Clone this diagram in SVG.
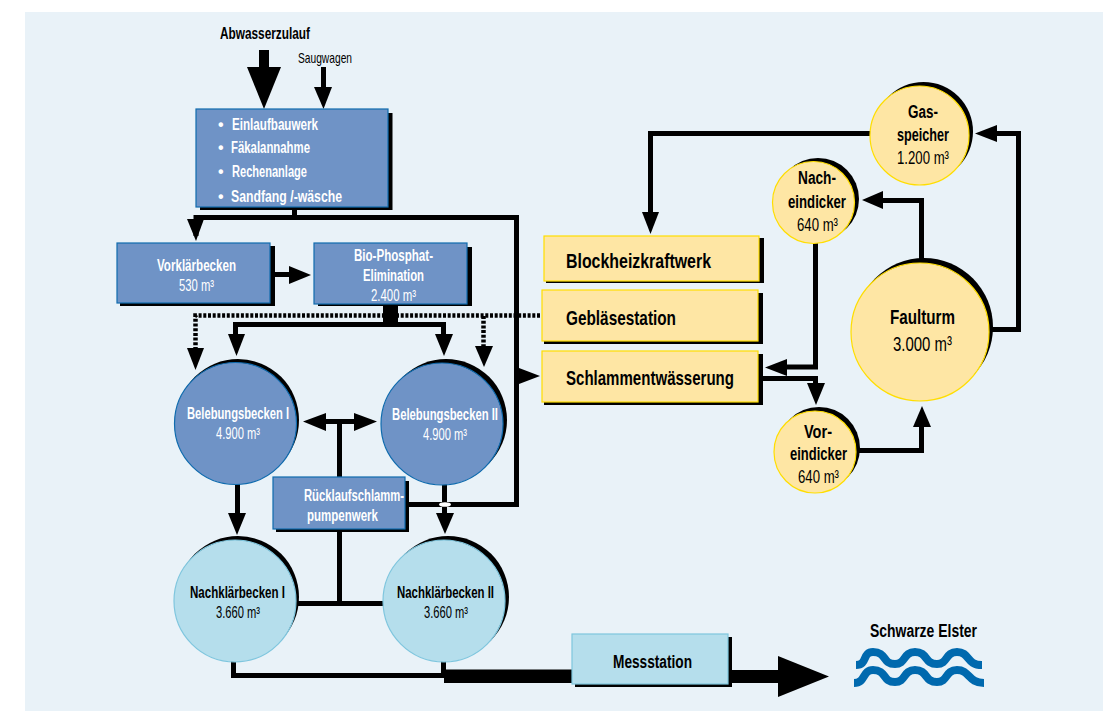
<svg xmlns="http://www.w3.org/2000/svg" width="1103" height="711" viewBox="0 0 1103 711">
<defs><style>
text{font-family:"Liberation Sans",Arial,sans-serif;font-weight:700;font-size:16px;fill:#fff}
.d{fill:#000}.r{font-weight:400}.big{font-size:20.500px}.mid{font-size:18px}.sm{font-size:14.500px}
.blue{fill:#6f93c6;stroke:#0f6bae;stroke-width:1.2}
.lb{fill:#b5deec;stroke:#7fc6de;stroke-width:1.2}
.yl{fill:#fee6a4;stroke:#ffde00;stroke-width:1.2}
.l{fill:none;stroke:#000;stroke-width:5}
.dot{fill:none;stroke:#000;stroke-width:4.500;stroke-dasharray:3 1.700}
.h{fill:#000;stroke:none}
.w{fill:none;stroke:#0069ae;stroke-width:8}
</style></defs>
<rect x="25" y="12" width="1078" height="699" fill="#e9f2f8"/>
<g id="connectors">
<polyline class="l" points="294.500,207 294.500,217.500"/>
<polyline class="l" points="196,236 196,217.500 516.500,217.500 516.500,504.500 405,504.500"/>
<polygon class="h" points="187,219 204,219 196,241"/>
<rect class="h" x="259" y="50" width="10" height="20"/><polygon class="h" points="247,67 281,67 264,109"/>
<rect class="h" x="321" y="67" width="5" height="22"/><polygon class="h" points="314,87 332,87 323.500,109"/>
<polyline class="l" points="272,274.500 292,274.500"/><polygon class="h" points="289,266 311,275 289,284"/>
<rect class="h" x="383" y="304" width="15" height="18"/>
<polyline class="dot" points="195.500,350 195.500,315.500 540,315.500"/>
<polyline class="dot" points="483.500,316 483.500,348"/>
<polygon class="h" points="187,348 204,348 195.500,370"/><polygon class="h" points="475,346 493,346 484,367"/>
<polyline class="l" points="235.500,336 235.500,324.500 443.500,324.500 443.500,336"/>
<polygon class="h" points="228,334 245,334 236.500,356"/><polygon class="h" points="435,334 453,334 444,356"/>
<polyline class="l" points="237.500,482 237.500,515"/><polygon class="h" points="228,513 246,513 237,535"/>
<polyline class="l" points="444.500,483 444.500,515"/><polygon class="h" points="436,513 454,513 445,534"/>
<polyline class="l" points="324,421.500 356,421.500"/><polygon class="h" points="326,413 326,431 303,421.500"/><polygon class="h" points="354,413 354,431 377,421.500"/>
<polyline class="l" points="339.500,421 339.500,480"/><polyline class="l" points="339.500,530 339.500,603.500"/><polyline class="l" points="296,603.500 385,603.500"/>
<polygon class="h" points="519,368 540,376 519,384"/>
<polyline class="l" points="233.500,660 233.500,675.500 443.500,675.500 443.500,660"/>
<rect class="h" x="444" y="669.500" width="130" height="13.500"/><rect class="h" x="728" y="670" width="52" height="13"/><polygon class="h" points="778,656 829,676.500 778,697"/>
<polyline class="l" points="872,133.500 650.500,133.500 650.500,214"/><polygon class="h" points="642,212 659,212 650.500,234"/>
<polyline class="l" points="988,329.500 1018.500,329.500 1018.500,133.500 995,133.500"/><polygon class="h" points="997,125 997,142 975,133.500"/>
<polyline class="l" points="921.500,262 921.500,200.500 881,200.500"/><polygon class="h" points="883,191 883,209 862,200"/>
<polyline class="l" points="815.500,243 815.500,367 785,367"/><polygon class="h" points="787,359 787,376 765,367.500"/>
<polyline class="l" points="763,378.500 815.500,378.500 815.500,385"/><polygon class="h" points="807,383 825,383 816,405"/>
<polyline class="l" points="857,450.500 921.500,450.500 921.500,425"/><polygon class="h" points="913,427 931,427 922,406"/>
<ellipse cx="445" cy="504.500" rx="6" ry="2.300" fill="#fff"/>
</g>
<g id="einlauf"><rect class="h" x="200" y="113" width="192.500" height="97"/><rect class="blue" x="196" y="109" width="192" height="98"/>
<text x="218" y="130" textLength="5">•</text><text x="232" y="130" textLength="86" lengthAdjust="spacingAndGlyphs">Einlaufbauwerk</text>
<text x="218" y="153" textLength="5">•</text><text x="231" y="153" textLength="79" lengthAdjust="spacingAndGlyphs">Fäkalannahme</text>
<text x="218" y="177" textLength="5">•</text><text x="232" y="177" textLength="75" lengthAdjust="spacingAndGlyphs">Rechenanlage</text>
<text x="218" y="202" textLength="5">•</text><text x="231" y="202" textLength="111" lengthAdjust="spacingAndGlyphs">Sandfang /-wäsche</text></g>
<g id="vorklaer"><rect class="h" x="120" y="246" width="155" height="60"/><rect class="blue" x="117" y="243" width="153" height="60"/>
<text x="157" y="271" textLength="79" lengthAdjust="spacingAndGlyphs">Vorklärbecken</text><text class="r" x="179" y="291" textLength="35" lengthAdjust="spacingAndGlyphs">530 m³</text></g>
<g id="biop"><rect class="h" x="318" y="247" width="154" height="59"/><rect class="blue" x="314" y="243" width="153" height="61"/>
<text x="354" y="261" textLength="79" lengthAdjust="spacingAndGlyphs">Bio-Phosphat-</text><text x="363" y="281" textLength="61" lengthAdjust="spacingAndGlyphs">Elimination</text><text class="r" x="371" y="301" textLength="45" lengthAdjust="spacingAndGlyphs">2.400 m³</text></g>
<g id="beleb1"><circle class="h" cx="238" cy="420" r="61"/><circle class="blue" cx="235.500" cy="423.500" r="61"/>
<text x="187" y="419" textLength="102" lengthAdjust="spacingAndGlyphs">Belebungsbecken I</text><text class="r" x="216" y="439" textLength="44" lengthAdjust="spacingAndGlyphs">4.900 m³</text></g>
<g id="beleb2"><circle class="h" cx="446" cy="420" r="61"/><circle class="blue" cx="442" cy="424" r="61"/>
<text x="392" y="420" textLength="106" lengthAdjust="spacingAndGlyphs">Belebungsbecken II</text><text class="r" x="423" y="440" textLength="44" lengthAdjust="spacingAndGlyphs">4.900 m³</text></g>
<g id="ruecklauf"><rect class="h" x="276" y="481" width="133" height="51"/><rect class="blue" x="273" y="477" width="132" height="52"/>
<text x="304" y="501" textLength="100" lengthAdjust="spacingAndGlyphs">Rücklaufschlamm-</text><text x="307" y="521" textLength="71" lengthAdjust="spacingAndGlyphs">pumpenwerk</text></g>
<g id="nach1"><circle class="h" cx="238" cy="597" r="61"/><circle class="lb" cx="235" cy="601" r="61"/>
<text class="d" x="190" y="598" textLength="95" lengthAdjust="spacingAndGlyphs">Nachklärbecken I</text><text class="d r" x="216" y="618" textLength="44" lengthAdjust="spacingAndGlyphs">3.660 m³</text></g>
<g id="nach2"><circle class="h" cx="448" cy="597" r="61"/><circle class="lb" cx="444" cy="601" r="61"/>
<text class="d" x="397" y="598" textLength="97" lengthAdjust="spacingAndGlyphs">Nachklärbecken II</text><text class="d r" x="424" y="618" textLength="44" lengthAdjust="spacingAndGlyphs">3.660 m³</text></g>
<g id="bhkw"><rect class="h" x="546" y="238" width="218" height="45"/><rect class="yl" x="544" y="236" width="215" height="45"/><text class="d big" x="566" y="268" textLength="145" lengthAdjust="spacingAndGlyphs">Blockheizkraftwerk</text></g>
<g id="geblaese"><rect class="h" x="544" y="293" width="219" height="51"/><rect class="yl" x="542" y="290" width="216" height="51"/><text class="d big" x="566" y="325" textLength="110" lengthAdjust="spacingAndGlyphs">Gebläsestation</text></g>
<g id="schlamm"><rect class="h" x="544" y="354" width="219" height="51"/><rect class="yl" x="542" y="351" width="216" height="51"/><text class="d big" x="566" y="385" textLength="168" lengthAdjust="spacingAndGlyphs">Schlammentwässerung</text></g>
<g id="gas"><circle class="h" cx="923.500" cy="131.500" r="49.500"/><circle class="yl" cx="919.500" cy="135.500" r="49.500"/>
<text class="d mid" x="908" y="118" textLength="30" lengthAdjust="spacingAndGlyphs">Gas-</text><text class="d mid" x="897" y="141" textLength="52" lengthAdjust="spacingAndGlyphs">speicher</text><text class="d mid r" x="897" y="164" textLength="52" lengthAdjust="spacingAndGlyphs">1.200 m³</text></g>
<g id="nacheind"><circle class="h" cx="818" cy="199" r="41"/><circle class="yl" cx="813.500" cy="202.500" r="41"/>
<text class="d mid" x="798" y="184" textLength="38" lengthAdjust="spacingAndGlyphs">Nach-</text><text class="d mid" x="788" y="208" textLength="58" lengthAdjust="spacingAndGlyphs">eindicker</text><text class="d mid r" x="797" y="231" textLength="41" lengthAdjust="spacingAndGlyphs">640 m³</text></g>
<g id="voreind"><circle class="h" cx="819" cy="448" r="41"/><circle class="yl" cx="815" cy="452" r="41"/>
<text class="d mid" x="804" y="438" textLength="28" lengthAdjust="spacingAndGlyphs">Vor-</text><text class="d mid" x="790" y="460" textLength="57" lengthAdjust="spacingAndGlyphs">eindicker</text><text class="d mid r" x="798" y="483" textLength="41" lengthAdjust="spacingAndGlyphs">640 m³</text></g>
<g id="faulturm"><circle class="h" cx="924" cy="327" r="69"/><circle class="yl" cx="920" cy="332" r="69"/>
<text class="d big" x="890" y="324" textLength="65" lengthAdjust="spacingAndGlyphs">Faulturm</text><text class="d big r" x="893" y="351" textLength="59" lengthAdjust="spacingAndGlyphs">3.000 m³</text></g>
<g id="mess"><rect class="h" x="575" y="637" width="157" height="50"/><rect class="lb" x="572" y="634" width="156" height="50"/><text class="d mid" x="613" y="668" textLength="79" lengthAdjust="spacingAndGlyphs">Messstation</text></g>
<g id="elster"><text class="d mid" x="870" y="637" textLength="107" lengthAdjust="spacingAndGlyphs">Schwarze Elster</text>
<path class="w" d="M856,665 C868,665 862,652 873,652 C887,652 882,664 895,664 C906,664 903,652 915,652 C928,652 924,664 937,664 C948,664 945,652 957,652 C970,652 966,665 982,665"/>
<path class="w" d="M854,683 C866,683 862,670 873,670 C887,670 882,682 895,682 C906,682 903,670 915,670 C928,670 924,682 937,682 C948,682 945,670 957,670 C970,670 968,683 984,683"/></g>
<text class="d" x="220" y="39" textLength="90" lengthAdjust="spacingAndGlyphs">Abwasserzulauf</text>
<text class="d r sm" x="298" y="62.500" textLength="54" lengthAdjust="spacingAndGlyphs">Saugwagen</text>
</svg>
